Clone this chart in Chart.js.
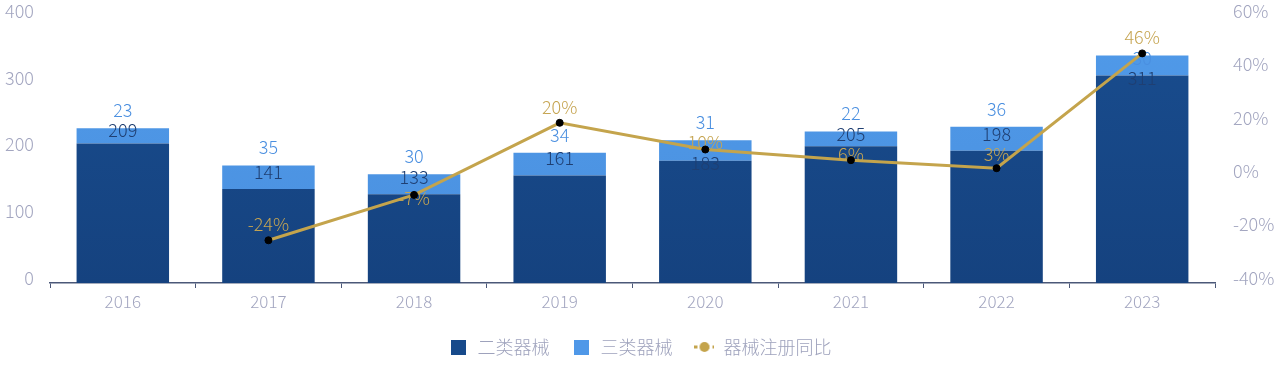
<!DOCTYPE html>
<html>
<head>
<meta charset="utf-8">
<script src="https://cdn.jsdelivr.net/npm/chart.js@4.4.1/dist/chart.umd.min.js"></script>
<style>
html,body{margin:0;padding:0;background:#fff;}
#wrap{width:1280px;height:382px;}
</style>
</head>
<body>
<div id="wrap"><canvas id="c" width="1280" height="382"></canvas></div>
<script>
const categories = ['2016','2017','2018','2019','2020','2021','2022','2023'];
const classII = [209,141,133,161,183,205,198,311];
const classIII = [23,35,30,34,31,22,36,30];
const yoyGrowth = [null,-24,-7,20,10,6,3,46];
const leftTicks = [0,100,200,300,400];
const rightTicks = [-40,-20,0,20,40,60];

const FONT = '"Noto Sans CJK SC","Noto Sans",sans-serif';
const TICK_COLOR = '#a3a6c0';
const AXIS_COLOR = '#4b5878';
const DARK = '#174a8b';
const LIGHT = '#4f98e8';
const GOLD = '#c4a44c';

function vGrad(ctx, top, bottom) {
  const ca = ctx.chart.chartArea;
  if (!ca) return top;
  const g = ctx.chart.ctx.createLinearGradient(0, ca.top, 0, ca.bottom);
  g.addColorStop(0, top);
  g.addColorStop(1, bottom);
  return g;
}

function makeIcon(kind) {
  const c = document.createElement('canvas');
  if (kind === 'line') {
    c.width = 20; c.height = 12;
    const x = c.getContext('2d');
    x.strokeStyle = GOLD; x.lineWidth = 3;
    x.setLineDash([3, 3]);
    x.beginPath(); x.moveTo(0, 6); x.lineTo(20, 6); x.stroke();
    x.setLineDash([]);
    x.fillStyle = GOLD;
    x.beginPath(); x.arc(10, 6, 5, 0, Math.PI * 2); x.fill();
  } else {
    c.width = 15; c.height = 15;
    const x = c.getContext('2d');
    x.fillStyle = kind === 'dark' ? DARK : LIGHT;
    x.fillRect(0, 0, 15, 15);
  }
  return c;
}
const icons = [makeIcon('dark'), makeIcon('light'), makeIcon('line')];

// value labels, placed above their marks and shifted down to avoid overlap
const labelPlugin = {
  id: 'valueLabels',
  beforeDatasetDraw(chart, args) {
    if (args.index !== 2) return;
    const ctx = chart.ctx;
    const m0 = chart.getDatasetMeta(0).data;
    const m1 = chart.getDatasetMeta(1).data;
    const m2 = chart.getDatasetMeta(2).data;
    const GAP = 20.5;
    ctx.save();
    ctx.font = '300 18px ' + FONT;
    ctx.textAlign = 'center';
    ctx.textBaseline = 'middle';
    categories.forEach((cat, k) => {
      const items = [];
      items.push({ text: String(classII[k]), color: '#1f3f72', x: m0[k].x, y: m0[k].y - 17 });
      items.push({ text: String(classIII[k]), color: '#4a8fe0', x: m1[k].x, y: m1[k].y - 18 });
      if (yoyGrowth[k] !== null) {
        items.push({ text: yoyGrowth[k] + '%', color: '#c6a552', x: m2[k].x, y: m2[k].y - 16 });
      }
      items.sort((a, b) => a.y - b.y);
      for (let j = 1; j < items.length; j++) {
        if (items[j].y < items[j - 1].y + GAP) items[j].y = items[j - 1].y + GAP;
      }
      items.forEach(it => {
        ctx.fillStyle = it.color;
        ctx.fillText(it.text, it.x, it.y);
      });
    });
    ctx.restore();
  }
};

function fixYPadding(s) {
  s.paddingTop = 16;
  s.paddingBottom = 0;
}

new Chart(document.getElementById('c'), {
  type: 'bar',
  data: {
    labels: categories,
    datasets: [
      {
        label: '二类器械',
        data: classII,
        backgroundColor: (c) => vGrad(c, '#194d8f', '#15427f'),
        stack: 's', yAxisID: 'y', order: 1,
        categoryPercentage: 1, barPercentage: 0.635
      },
      {
        label: '三类器械',
        data: classIII,
        backgroundColor: (c) => vGrad(c, '#509ae9', '#4a90df'),
        stack: 's', yAxisID: 'y', order: 1,
        categoryPercentage: 1, barPercentage: 0.635
      },
      {
        type: 'line',
        label: '器械注册同比',
        data: yoyGrowth,
        yAxisID: 'y1', order: 0,
        borderColor: GOLD, borderWidth: 3,
        pointBackgroundColor: '#000', pointBorderColor: '#000',
        pointRadius: 3.5, pointBorderWidth: 1,
        tension: 0, spanGaps: false
      }
    ]
  },
  options: {
    responsive: false,
    animation: false,
    events: [],
    layout: { padding: { left: 0, right: 0, top: 0, bottom: 16 } },
    plugins: {
      tooltip: { enabled: false },
      legend: {
        position: 'bottom',
        labels: {
          usePointStyle: true,
          pointStyleWidth: 20,
          boxHeight: 15,
          padding: 22,
          color: '#9ea2bc',
          font: { family: FONT, size: 18, weight: '300' },
          sort: (a, b) => a.datasetIndex - b.datasetIndex,
          generateLabels(chart) {
            return chart.data.datasets.map((ds, idx) => ({
              text: ds.label,
              pointStyle: icons[idx],
              fillStyle: 'transparent',
              strokeStyle: 'transparent',
              lineWidth: 0,
              datasetIndex: idx,
              hidden: false,
              fontColor: '#9ea2bc'
            }));
          }
        }
      }
    },
    scales: {
      x: {
        offset: true,
        grid: {
          offset: true, drawOnChartArea: false, drawTicks: true,
          tickLength: 5, color: AXIS_COLOR, lineWidth: 1
        },
        border: { display: true, color: AXIS_COLOR, width: 1.5 },
        ticks: { color: TICK_COLOR, font: { family: FONT, size: 17, weight: '300' }, padding: 3 },
        afterFit(s) { s.height = 33; }
      },
      y: {
        position: 'left',
        min: 0, max: 400,
        afterBuildTicks(s) { s.ticks = leftTicks.map(v => ({ value: v })); },
        grid: { display: false },
        border: { display: false },
        ticks: {
          color: TICK_COLOR,
          font: { family: FONT, size: 18, weight: '300', lineHeight: '10px' },
          padding: 8,
          callback: (v) => [String(v), '']
        },
        afterFit(s) { s.width = 50; fixYPadding(s); }
      },
      y1: {
        position: 'right',
        min: -40, max: 60,
        afterBuildTicks(s) { s.ticks = rightTicks.map(v => ({ value: v })); },
        grid: { display: false },
        border: { display: false },
        ticks: {
          color: TICK_COLOR,
          font: { family: FONT, size: 18, weight: '300', lineHeight: '10px' },
          padding: 10,
          callback: (v) => [v + '%', '']
        },
        afterFit(s) { s.width = 65; fixYPadding(s); }
      }
    }
  },
  plugins: [labelPlugin]
});
</script>
</body>
</html>
